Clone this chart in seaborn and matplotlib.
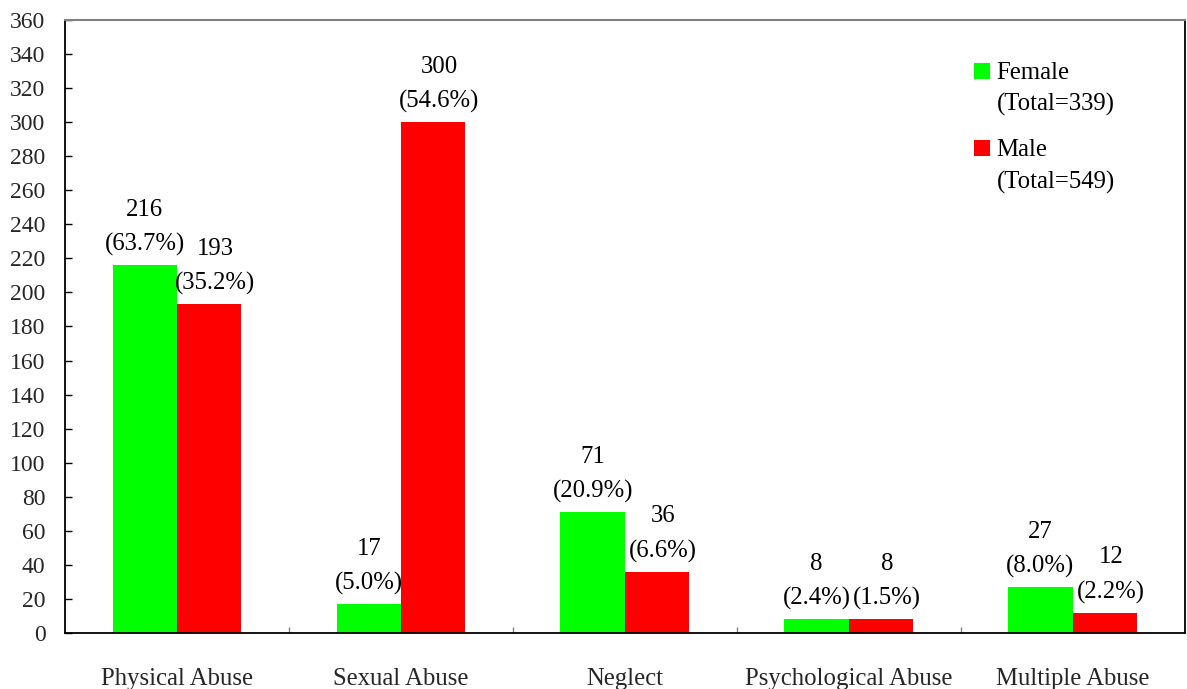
import matplotlib
matplotlib.use("Agg")
import matplotlib.pyplot as plt
import seaborn as sns
import pandas as pd
from matplotlib.patches import Rectangle

# Abuse types and counts by sex
categories = ["Physical Abuse", "Sexual Abuse", "Neglect", "Psychological Abuse", "Multiple Abuse"]
female_counts = [216, 17, 71, 8, 27]
male_counts = [193, 300, 36, 8, 12]
female_pct = ["63.7%", "5.0%", "20.9%", "2.4%", "8.0%"]
male_pct = ["35.2%", "54.6%", "6.6%", "1.5%", "2.2%"]
series_names = ["Female", "Male"]
series_totals = [339, 549]
y_ticks = list(range(0, 361, 20))

colors = {"Female": "#00FF00", "Male": "#FF0000"}

df = pd.DataFrame({
    "Type": categories * 2,
    "Sex": ["Female"] * len(categories) + ["Male"] * len(categories),
    "Count": female_counts + male_counts,
    "Pct": female_pct + male_pct,
})

sns.set_theme(style="white")
plt.rcParams["font.family"] = ["Liberation Serif", "DejaVu Serif"]
plt.rcParams["text.color"] = "black"

FS = 17.8

fig = plt.figure(figsize=(11.87, 6.89), dpi=100)
ax = fig.add_axes([0.0548, 0.0813, 0.9432, 0.8897])

sns.barplot(data=df, x="Type", y="Count", hue="Sex", order=categories,
            hue_order=series_names, palette=colors, width=0.575,
            saturation=1, linewidth=0, ax=ax, legend=False)

ax.set_xlim(-0.5, len(categories) - 0.5)
ax.set_ylim(0, 360)
ax.set_yticks(y_ticks)
ax.set_xlabel("")
ax.set_ylabel("")

# Value labels: count over percentage
for container, sex in zip(ax.containers, series_names):
    sub = df[df["Sex"] == sex].set_index("Type").loc[categories]
    shift = 0 if sex == "Female" else 6
    for bar, (cnt, pct) in zip(container, zip(sub["Count"], sub["Pct"])):
        x = bar.get_x() + bar.get_width() / 2
        ax.annotate(f"{cnt}\n({pct})", xy=(x, bar.get_height()),
                    xytext=(shift, 9), textcoords="offset pixels",
                    ha="center", va="bottom", multialignment="center",
                    linespacing=1.7, fontsize=FS, color="black")

# Axes styling
for side in ["left", "bottom", "right"]:
    ax.spines[side].set_color("black")
    ax.spines[side].set_linewidth(1.3)
ax.spines["top"].set_color("#808080")
ax.spines["top"].set_linewidth(1.5)

ax.tick_params(axis="y", direction="in", length=5, width=1, color="black",
               labelsize=17, pad=14, left=True)
ax.tick_params(axis="x", which="major", length=0, labelsize=FS, pad=25, bottom=True)
ax.set_xticks([i + 0.5 for i in range(len(categories) - 1)], minor=True)
ax.tick_params(axis="x", which="minor", direction="in", length=4.5, width=1,
               color="#808080", bottom=True)
ax.grid(False)

# Legend drawn as swatches with two-line captions
sq_w, sq_h = 16 / 1120, 16 / 613
legend_rows = [(0.9168, 0.8662), (0.7912, 0.7390)]
for (y1, y2), name, total in zip(legend_rows, series_names, series_totals):
    ax.add_patch(Rectangle((0.8116, y1 - sq_h / 2), sq_w, sq_h,
                           transform=ax.transAxes, facecolor=colors[name],
                           edgecolor="none", clip_on=False))
    ax.text(0.832, y1 - 0.004, name, transform=ax.transAxes, va="center",
            ha="left", fontsize=FS)
    ax.text(0.832, y2 - 0.004, f"(Total={total})", transform=ax.transAxes,
            va="center", ha="left", fontsize=FS)

fig.savefig("out.png", dpi=100)
